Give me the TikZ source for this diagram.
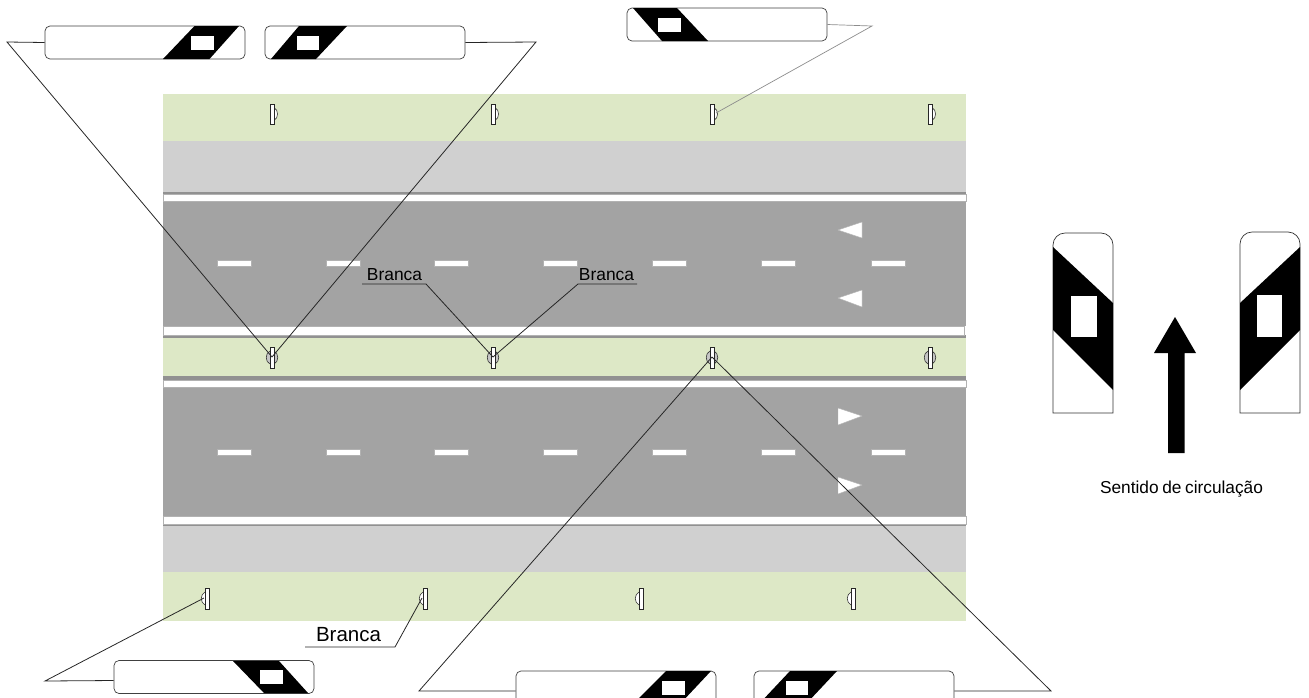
\documentclass[tikz,border=0pt]{standalone}
\usepackage{fontspec}
\setmainfont{Liberation Sans}
\definecolor{vergegreen}{RGB}{221,232,198}
\definecolor{shouldergray}{RGB}{208,208,208}
\definecolor{roadgray}{RGB}{163,163,163}
\definecolor{edgegray}{RGB}{145,145,145}
\tikzset{
  roadmark/.style={fill=white, draw=edgegray!70, line width=0.4pt},
  leader/.style={line width=0.8pt, black!85},
  signpanel/.style={draw=black!75, fill=white, line width=0.7pt, rounded corners=5pt, minimum width=200pt, minimum height=33pt, inner sep=0pt},
  postbody/.style={draw=black!85, fill=white, line width=0.7pt},
  postbulge/.style={draw=black!80, fill=gray!45, line width=0.6pt},
}
\newcommand{\panelband}[2]{%
  \begin{scope}
    \clip[rounded corners=5pt] (#1.south west) rectangle (#1.north east);
    \fill[black] #2;
  \end{scope}}

\begin{document}
\begin{tikzpicture}[x=1pt, y=-1pt]
        \useasboundingbox (0,0) rectangle (1309,697);
        \clip (0,0) rectangle (1309,697);
        % Road bands
        \fill[vergegreen] (163,94) rectangle (966,141);
        \fill[shouldergray] (163,141) rectangle (966,191.5);
        \fill[edgegray] (163,191.5) rectangle (966,194);
        \fill[roadgray] (163,201) rectangle (966,326);
        \fill[edgegray] (163,335) rectangle (966,338);
        \fill[vergegreen] (163,338) rectangle (966,376);
        \fill[edgegray] (163,376) rectangle (966,380);
        \fill[roadgray] (163,388) rectangle (966,516);
        \fill[edgegray] (163,524) rectangle (966,526);
        \fill[shouldergray] (163,526) rectangle (966,572);
        \fill[vergegreen] (163,572) rectangle (966,621);

        % Edge lines
        \draw[roadmark] (163,194) rectangle (966,201);
        \draw[roadmark] (163,326) rectangle (964,335);
        \draw[roadmark] (163,380.5) rectangle (966,387.5);
        \draw[roadmark] (163,516) rectangle (966,524.5);

        % Lane dashes
        \foreach \x in {217,326,434,543,652,761,871} {
          \draw[roadmark] (\x,260) rectangle (\x+34,266);
          \draw[roadmark] (\x,449) rectangle (\x+34,455);
        }

        % Lane arrows
        \draw[roadmark] (838,230) -- (862,222) -- (862,238) -- cycle;
        \draw[roadmark] (838,298) -- (862,290) -- (862,307) -- cycle;
        \draw[roadmark] (862,416) -- (838,408) -- (838,425) -- cycle;
        \draw[roadmark] (862,485) -- (838,477) -- (838,494) -- cycle;

        % Delineator posts
        \foreach \x/\n in {272/1,493/2,712/3,930/4} {
          \draw[postbulge, fill=white] (\x+2.5,108) .. controls (\x+6.5,110) and (\x+6.5,118) .. (\x+2.5,120);
          \draw[postbody] (\x-2,104) rectangle (\x+2.5,124);
          \draw[postbulge] (\x-2,351) .. controls (\x-7,353) and (\x-7,362) .. (\x-2,364);
          \draw[postbulge] (\x+2,351) .. controls (\x+7,353) and (\x+7,362) .. (\x+2,364);
          \draw[postbody] (\x-2,347) rectangle (\x+2,368);
          \coordinate (uppost\n) at (\x+4,113);
          \coordinate (midpost\n) at (\x,357);
        }
        \foreach \x/\n in {207/1,425/2,641/3,853/4} {
          \draw[postbulge, fill=white] (\x-2,592) .. controls (\x-7,595) and (\x-7,602) .. (\x-2,605);
          \draw[postbody] (\x-2,588) rectangle (\x+2,609);
          \coordinate (lowpost\n) at (\x-3,598);
        }

        % Top panels
        \node[signpanel] (panelA) at (145,42.5) {};
        \panelband{panelA}{(194.5,26) -- (239,26) -- (209.5,59) -- (163,59) -- cycle}
        \fill[white] (191,36) rectangle (214,50);
        \node[signpanel] (panelB) at (365,42.5) {};
        \panelband{panelB}{(299,26) -- (347,26) -- (316,59) -- (271,59) -- cycle}
        \fill[white] (296.5,36) rectangle (319,50);
        \node[signpanel] (panelC) at (727,24.5) {};
        \panelband{panelC}{(633,8) -- (677,8) -- (708,41) -- (662,41) -- cycle}
        \fill[white] (658,18) rectangle (681,32);

        % Bottom panels
        \node[signpanel] (panelD) at (214,677) {};
        \panelband{panelD}{(233,661) -- (279,661) -- (308,693) -- (264,693) -- cycle}
        \fill[white] (260,670) rectangle (283,684);
        \node[signpanel] (panelE) at (616,687.5) {};
        \panelband{panelE}{(666,671) -- (711,671) -- (680,704) -- (633,704) -- cycle}
        \fill[white] (662,681) rectangle (685,695);
        \node[signpanel] (panelF) at (854,687.5) {};
        \panelband{panelF}{(790,671) -- (837,671) -- (806,704) -- (759,704) -- cycle}
        \fill[white] (785.5,681) rectangle (808,695);

        % Panel leaders
        \coordinate (apexA) at (7,42);
        \coordinate (apexB) at (536,42);
        \coordinate (apexC) at (872,26);
        \coordinate (apexD) at (45,681);
        \coordinate (apexE) at (419,691);
        \coordinate (apexF) at (1051,691);
        \draw[leader] (panelA.west) -- (apexA) -- (midpost1);
        \draw[leader] (panelB.east) -- (apexB) -- (midpost1);
        \draw[line width=0.7pt, black!45] (panelC.east) -- (apexC) -- (uppost3);
        \draw[leader] (panelD.182) -- (apexD) -- (lowpost1);
        \draw[leader] (panelE.182) -- (apexE) -- (midpost3);
        \draw[leader] (panelF.358) -- (apexF) -- (midpost3);

        % Colour labels
        \node[anchor=base, inner sep=0pt, font=\fontsize{17.4}{20}\selectfont] (brancaA) at (394.5,280) {Branca};
        \node[anchor=base, inner sep=0pt, font=\fontsize{17.4}{20}\selectfont] (brancaB) at (606.5,280) {Branca};
        \node[anchor=base, inner sep=0pt, font=\fontsize{20.5}{24}\selectfont] (brancaC) at (348.5,641) {Branca};
        \coordinate (lineA) at (362,284);
        \coordinate (kneeA) at (426,284);
        \coordinate (lineB) at (637,284);
        \coordinate (kneeB) at (578,284);
        \coordinate (lineC) at (305,647);
        \coordinate (kneeC) at (395,647);
        \draw[leader] (lineA) -- (kneeA) -- (midpost2);
        \draw[leader] (lineB) -- (kneeB) -- (midpost2);
        \draw[leader] (lineC) -- (kneeC) -- (lowpost2);

        % Side panels
        \draw[black!80, line width=0.7pt, fill=white, rounded corners=12pt] (1053,413) [sharp corners] -- (1053,400) [rounded corners=12pt] -- (1053,233) -- (1113,233) [sharp corners] -- (1113,413) -- cycle;
        \fill[black] (1053,247) -- (1113,303) -- (1113,390) -- (1053,330) -- cycle;
        \fill[white] (1070.5,296) rectangle (1096.5,337);
        \draw[black!80, line width=0.7pt, fill=white, rounded corners=12pt] (1240,413) [sharp corners] -- (1240,400) [rounded corners=12pt] -- (1240,232) -- (1300,232) [sharp corners] -- (1300,413) -- cycle;
        \fill[black] (1240,303) -- (1300,247) -- (1300,330) -- (1240,390) -- cycle;
        \fill[white] (1257,295) rectangle (1282,337);

        % Direction arrow
        \fill[black] (1175,317) -- (1196,353) -- (1184.5,353) -- (1184.5,453) -- (1168,453) -- (1168,353) -- (1154,353) -- cycle;
        \node[anchor=base, inner sep=0pt, font=\fontsize{17.3}{20}\selectfont] (sentido) at (1181.5,493) {\spaceskip=3.6pt\relax Sentido de circulação};
      \end{tikzpicture}
\end{document}
